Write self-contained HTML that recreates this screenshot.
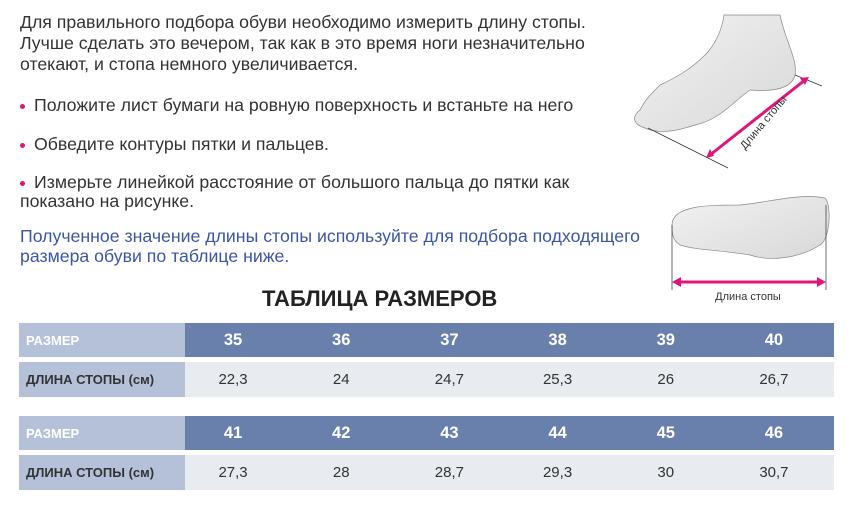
<!DOCTYPE html>
<html><head><meta charset="utf-8"><style>
body{margin:0;width:851px;height:509px;background:#fff;position:relative;overflow:hidden;font-family:"Liberation Sans",Arial,sans-serif;color:#333}
.t{position:absolute;left:20px;font-size:17.7px;line-height:21px;white-space:nowrap}
.b{position:absolute;left:20px;font-size:17.7px;line-height:19px;white-space:nowrap}
.b i{display:inline-block;width:5px;height:5px;border-radius:50%;background:#e0157a;margin-right:9px;vertical-align:2px}
.row{position:absolute;left:19px;width:815px;display:flex}
.row div{display:flex;align-items:center;justify-content:center}
.lab{width:166px;justify-content:flex-start!important;padding-left:7px;box-sizing:border-box;background:#b4c1d9;font-weight:bold;font-size:13px}
.h .lab{color:#fff}
.h{background:#6a80ac;color:#fff;font-weight:bold;font-size:16.5px}
.d{background:#e8ebef;color:#333;font-size:15px}
.c{width:108.2px;padding-right:12px;box-sizing:border-box}
</style></head><body>
<div class="t" style="top:12px">Для правильного подбора обуви необходимо измерить длину стопы.<br>Лучше сделать это вечером, так как в это время ноги незначительно<br>отекают, и стопа немного увеличивается.</div>
<div class="b" style="top:96px"><i></i>Положите лист бумаги на ровную поверхность и встаньте на него</div>
<div class="b" style="top:135px"><i></i>Обведите контуры пятки и пальцев.</div>
<div class="b" style="top:173px"><i></i>Измерьте линейкой расстояние от большого пальца до пятки как<br>показано на рисунке.</div>
<div class="t" style="top:226px;color:#3b56a3;line-height:20px">Полученное значение длины стопы используйте для подбора подходящего<br>размера обуви по таблице ниже.</div>
<div style="position:absolute;left:262px;top:286px;font-size:22px;font-weight:bold;color:#222">ТАБЛИЦА РАЗМЕРОВ</div>

<div class="row h" style="top:323px;height:34px"><div class="lab">РАЗМЕР</div><div class="c">35</div><div class="c">36</div><div class="c">37</div><div class="c">38</div><div class="c">39</div><div class="c">40</div></div>
<div class="row d" style="top:362px;height:35px"><div class="lab">ДЛИНА СТОПЫ (см)</div><div class="c">22,3</div><div class="c">24</div><div class="c">24,7</div><div class="c">25,3</div><div class="c">26</div><div class="c">26,7</div></div>
<div class="row h" style="top:416px;height:34px"><div class="lab">РАЗМЕР</div><div class="c">41</div><div class="c">42</div><div class="c">43</div><div class="c">44</div><div class="c">45</div><div class="c">46</div></div>
<div class="row d" style="top:455px;height:35px"><div class="lab">ДЛИНА СТОПЫ (см)</div><div class="c">27,3</div><div class="c">28</div><div class="c">28,7</div><div class="c">29,3</div><div class="c">30</div><div class="c">30,7</div></div>

<svg style="position:absolute;left:600px;top:0" width="251" height="310">
<defs><linearGradient id="g" x1="0" y1="0" x2="1" y2="1"><stop offset="0" stop-color="#f2f2f2"/><stop offset="1" stop-color="#d8d8d8"/></linearGradient></defs>
<path d="M124 15 L180 15 C185 40 198 60 195 75 C192 88 175 92 150 90 C135 100 120 120 95 125 C80 130 60 135 45 128 C35 125 30 118 40 110 C45 100 50 95 60 85 C75 78 90 70 105 55 C115 45 122 30 124 15Z" fill="url(#g)" stroke="#888" stroke-width="0.7"/>
<path d="M48 128 L128 168 M195 75 L222 86" stroke="#333" stroke-width="0.7"/>
<path d="M110 155 L205 80" stroke="#e0157a" stroke-width="3"/>
<path d="M106 158 l4-9 4 7z M209 77 l-9 1 5 7z" fill="#e0157a"/>
<text x="0" y="0" font-size="11" fill="#333" transform="translate(145 150) rotate(-50)">Длина стопы</text>
<path d="M72 225 C72 205 110 205 140 205 C170 202 200 193 225 198 C232 205 230 240 220 245 C200 258 170 262 150 255 C120 250 95 250 80 245 C72 240 72 232 72 225Z" fill="url(#g)" stroke="#888" stroke-width="0.7"/>
<path d="M72 225 L72 290 M226 205 L226 290" stroke="#333" stroke-width="0.7"/>
<path d="M78 282 L220 282" stroke="#e0157a" stroke-width="3"/>
<path d="M72 282 l9-5 0 10z M226 282 l-9-5 0 10z" fill="#e0157a"/>
<text x="148" y="300" font-size="11" fill="#333" text-anchor="middle">Длина стопы</text>
</svg>
</body></html>
